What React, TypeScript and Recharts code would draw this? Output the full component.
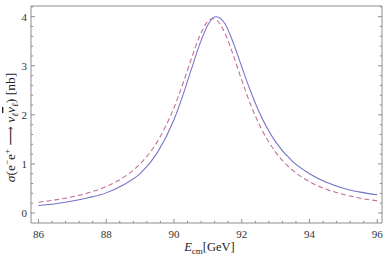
import React from 'react';
import { LineChart, Line, XAxis, YAxis, Label } from 'recharts';

const energies = [86, 86.5, 87, 87.5, 88, 88.5, 89, 89.5, 90, 90.25, 90.5, 90.75, 91, 91.15, 91.25, 91.5, 91.75, 92, 92.25, 92.5, 93, 93.5, 94, 94.5, 95, 95.5, 96];
const solidSigma = [0.152, 0.19, 0.245, 0.316, 0.41, 0.57, 0.8, 1.22, 1.9, 2.37, 2.9, 3.42, 3.83, 3.975, 4.0, 3.86, 3.47, 2.98, 2.5, 2.08, 1.45, 1.05, 0.8, 0.625, 0.505, 0.425, 0.37];
const dashedSigma = [0.22, 0.267, 0.329, 0.416, 0.539, 0.721, 1.0, 1.444, 2.145, 2.608, 3.117, 3.592, 3.904, 3.96, 3.935, 3.672, 3.218, 2.708, 2.232, 1.828, 1.241, 0.873, 0.639, 0.484, 0.378, 0.302, 0.247];

const xMajor = [86, 88, 90, 92, 94, 96];
const xMinor = [86.4, 86.8, 87.2, 87.6, 88.4, 88.8, 89.2, 89.6, 90.4, 90.8, 91.2, 91.6, 92.4, 92.8, 93.2, 93.6, 94.4, 94.8, 95.2, 95.6];
const yMajor = [0, 1, 2, 3, 4];
const yMinor = [0.2, 0.4, 0.6, 0.8, 1.2, 1.4, 1.6, 1.8, 2.2, 2.4, 2.6, 2.8, 3.2, 3.4, 3.6, 3.8, 4.2];

const xAll = [...xMajor, ...xMinor].sort((a, b) => a - b);
const yAll = [...yMajor, ...yMinor].sort((a, b) => a - b);

const xDomain: [number, number] = [85.78, 96.14];
const yDomain: [number, number] = [-0.204, 4.218];

const data = energies.map((e, i) => ({ E: e, solid: solidSigma[i], dashed: dashedSigma[i] }));

const FRAME = '#8c8c8c';
const FONT = '"Liberation Serif", "DejaVu Serif", serif';
const MAJ = 4;
const MIN = 2.2;

const isMajor = (list: number[], v: number) => list.some((m) => Math.abs(m - v) < 1e-6);

const BottomTick = (p: any) => {
  const v = p.payload.value;
  const major = isMajor(xMajor, v);
  return (
    <g>
      <line x1={p.x} y1={p.y} x2={p.x} y2={p.y - (major ? MAJ : MIN)} stroke={FRAME} strokeWidth={1} />
      {major && (
        <text x={p.x} y={p.y + 15} textAnchor="middle" fontFamily={FONT} fontSize={11} fill="#333">{v}</text>
      )}
    </g>
  );
};

const TopTick = (p: any) => {
  const major = isMajor(xMajor, p.payload.value);
  return <line x1={p.x} y1={p.y} x2={p.x} y2={p.y + (major ? MAJ : MIN)} stroke={FRAME} strokeWidth={1} />;
};

const LeftTick = (p: any) => {
  const v = p.payload.value;
  const major = isMajor(yMajor, v);
  return (
    <g>
      <line x1={p.x} y1={p.y} x2={p.x + (major ? MAJ : MIN)} y2={p.y} stroke={FRAME} strokeWidth={1} />
      {major && (
        <text x={p.x - 4} y={p.y + 4} textAnchor="end" fontFamily={FONT} fontSize={11} fill="#333">{v}</text>
      )}
    </g>
  );
};

const RightTick = (p: any) => {
  const major = isMajor(yMajor, p.payload.value);
  return <line x1={p.x} y1={p.y} x2={p.x - (major ? MAJ : MIN)} y2={p.y} stroke={FRAME} strokeWidth={1} />;
};

const XLabel = (props: any) => {
  const vb = props.viewBox;
  return (
    <text x={vb.x + vb.width / 2 + 3} y={vb.y + 28} textAnchor="middle" fontFamily={FONT} fontSize={12.5} fill="#222">
      <tspan fontStyle="italic">E</tspan>
      <tspan fontSize={9} dy={2.5}>cm</tspan>
      <tspan dy={-2.5}>[GeV]</tspan>
    </text>
  );
};

const YLabel = (props: any) => {
  const vb = props.viewBox;
  const cx = 15;
  const cy = vb.y + vb.height / 2 + 13;
  return (
    <text x={cx} y={cy} transform={`rotate(-90 ${cx} ${cy})`} textAnchor="middle" fontFamily={FONT} fontSize={13.5} fill="#222">
      <tspan fontStyle="italic">σ</tspan>
      <tspan>(e</tspan>
      <tspan fontSize={9} dy={-5}>−</tspan>
      <tspan dy={5}>e</tspan>
      <tspan fontSize={9} dy={-5}>+</tspan>
      <tspan dy={5}>{' ⟶ '}</tspan>
      <tspan fontStyle="italic">ν</tspan>
      <tspan fontSize={9} dy={3} fontStyle="italic">ℓ</tspan>
      <tspan dy={-3} fontStyle="italic" style={{ textDecoration: 'overline' }}>{'ν'}</tspan>
      <tspan fontSize={9} dy={3} fontStyle="italic">ℓ</tspan>
      <tspan dy={-3}>) [nb]</tspan>
    </text>
  );
};

export default function App() {
  return (
    <div style={{ position: 'absolute', left: 0, top: 0, fontFamily: FONT }}>
      <LineChart width={388} height={256} data={data} margin={{ top: 5, right: 5, bottom: 0, left: 0 }}>
        <XAxis xAxisId="main" dataKey="E" type="number" domain={xDomain} allowDataOverflow ticks={xAll}
          tickLine={false} tickSize={0} tickMargin={0} axisLine={{ stroke: FRAME }} tick={<BottomTick />} height={33} interval={0}>
          <Label content={<XLabel />} />
        </XAxis>
        <XAxis xAxisId="top" orientation="top" type="number" domain={xDomain} allowDataOverflow ticks={xAll}
          tickLine={false} tickSize={0} tickMargin={0} axisLine={{ stroke: FRAME }} tick={<TopTick />} height={1} interval={0} />
        <YAxis yAxisId="main" type="number" domain={yDomain} allowDataOverflow ticks={yAll} width={31}
          tickLine={false} tickSize={0} tickMargin={0} axisLine={{ stroke: FRAME }} tick={<LeftTick />} interval={0}>
          <Label content={<YLabel />} />
        </YAxis>
        <YAxis yAxisId="right" orientation="right" type="number" domain={yDomain} allowDataOverflow ticks={yAll} width={1}
          tickLine={false} tickSize={0} tickMargin={0} axisLine={{ stroke: FRAME }} tick={<RightTick />} interval={0} />
        <Line xAxisId="main" yAxisId="main" type="monotone" dataKey="dashed" stroke="#c06a98" strokeWidth={1.05}
          strokeDasharray="5 3" dot={false} isAnimationActive={false} />
        <Line xAxisId="main" yAxisId="main" type="monotone" dataKey="solid" stroke="#7272c8" strokeWidth={1.05}
          dot={false} isAnimationActive={false} />
      </LineChart>
    </div>
  );
}
